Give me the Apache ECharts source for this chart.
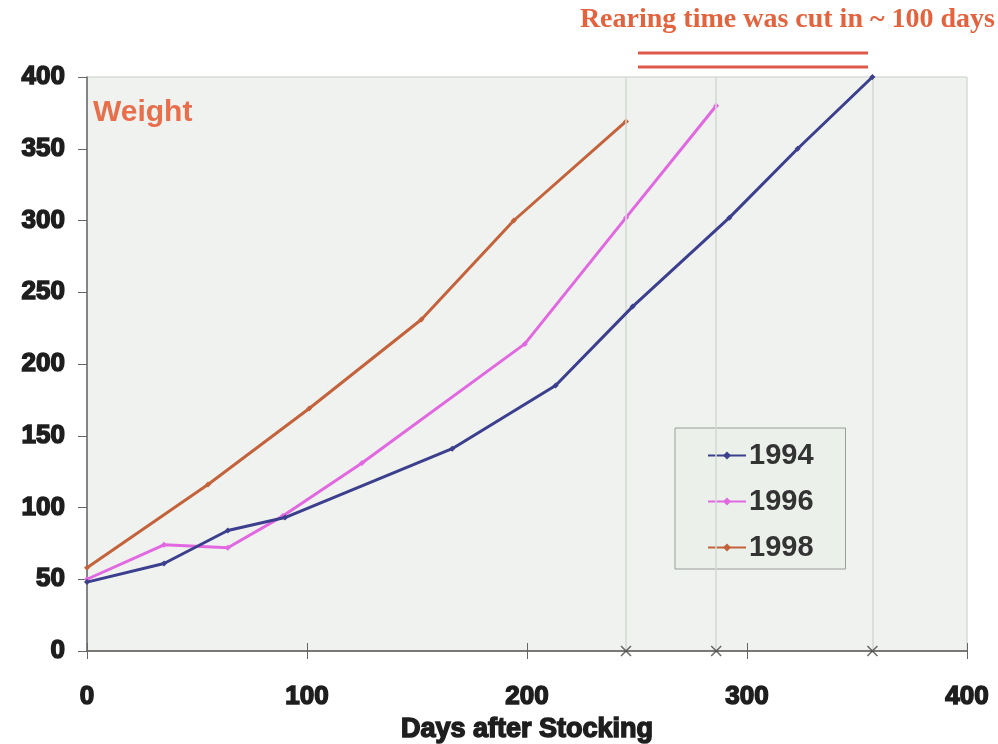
<!DOCTYPE html>
<html>
<head>
<meta charset="utf-8">
<script src="https://cdn.jsdelivr.net/npm/echarts@6/dist/echarts.min.js"></script>
<style>
  html, body { margin: 0; padding: 0; background: #ffffff; }
  #chart { width: 998px; height: 744px; }
</style>
</head>
<body>
<div id="chart"></div>
<script>
// Fish weight growth by stocking year: [days after stocking, weight]
const years = ['1994', '1996', '1998'];
const data1994 = [[0, 48], [35, 61], [64, 84], [90, 93], [166, 141], [213, 185], [248, 240], [292, 302], [323, 350], [357, 400]];
const data1996 = [[0, 50], [35, 74], [64, 72], [89, 94], [125, 131], [199, 214], [245, 302], [286, 380]];
const data1998 = [[0, 58], [55, 116], [101, 169], [152, 231], [194, 300], [245, 369]];
const xTicks = [0, 100, 200, 300, 400];
const yTicks = [0, 50, 100, 150, 200, 250, 300, 350, 400];

const seriesData = [data1994, data1996, data1998];
const colors = ['#3b3f8e', '#e268e2', '#c4633b'];

// harvest day of each year = last sample
const harvestDays = seriesData.map(d => d[d.length - 1][0]);

// heavy black tick labels (bold face thickened with a thin outline)
const labelFont = {
  fontFamily: 'Liberation Sans', fontWeight: 'bold', fontSize: 26, color: '#1e1e1e',
  textBorderColor: '#1e1e1e', textBorderWidth: 1.5
};

const lineSeries = years.map((y, i) => ({
  name: y,
  type: 'line',
  data: seriesData[i],
  symbol: 'diamond',
  symbolSize: 6,
  lineStyle: { width: 3, color: colors[i] },
  itemStyle: { color: colors[i] },
  z: 5 - i,
  markLine: {
    silent: true,
    symbol: 'none',
    label: { show: false },
    lineStyle: { color: '#d3d8d2', width: 1.5, type: 'solid' },
    data: [{ xAxis: harvestDays[i] }]
  }
}));

// small crosses on the x axis at each harvest day
const crossPath = 'path://M0,0 L10,10 M10,0 L0,10';
lineSeries.push({
  name: 'harvest',
  type: 'scatter',
  data: harvestDays.map(d => [d, 0]),
  symbol: crossPath,
  symbolSize: 10,
  itemStyle: { color: 'transparent', borderColor: '#444', borderWidth: 1.5 },
  clip: false,
  z: 10
});

const chart = echarts.init(document.getElementById('chart'));
chart.setOption({
  backgroundColor: '#ffffff',
  animation: false,
  grid: {
    left: 87, right: 31, top: 77, bottom: 93,
    outerBoundsMode: 'none',
    containLabel: false,
    show: true, backgroundColor: '#eff2ee', borderColor: '#c9ccc8', borderWidth: 1
  },
  xAxis: [{
    type: 'value', min: xTicks[0], max: xTicks[xTicks.length - 1], interval: 100,
    name: 'Days after Stocking', nameLocation: 'middle', nameGap: 57,
    nameTextStyle: {
      fontFamily: 'Liberation Sans', fontWeight: 'bold', fontSize: 27, color: '#1e1e1e',
      textBorderColor: '#1e1e1e', textBorderWidth: 1.5
    },
    axisLine: { show: true, onZero: false, lineStyle: { color: '#555', width: 1.5 } },
    axisTick: { show: true, length: 8, lineStyle: { color: '#666' } },
    axisLabel: Object.assign({ margin: 33 }, labelFont),
    splitLine: { show: false }
  }, {
    type: 'value', min: xTicks[0], max: xTicks[xTicks.length - 1], interval: 100,
    position: 'bottom',
    axisLine: { show: false },
    axisTick: { show: true, inside: true, length: 8, lineStyle: { color: '#666' } },
    axisLabel: { show: false },
    splitLine: { show: false }
  }],
  yAxis: {
    type: 'value', min: yTicks[0], max: yTicks[yTicks.length - 1], interval: 50,
    axisLine: { show: true, lineStyle: { color: '#666', width: 1.5 } },
    axisTick: { show: true, length: 9, lineStyle: { color: '#666' } },
    axisLabel: Object.assign({ margin: 22 }, labelFont),
    splitLine: { show: false }
  },
  legend: {
    data: years,
    orient: 'vertical',
    left: 675, top: 428,
    width: 170,
    padding: [13, 32, 7, 32],
    backgroundColor: '#ecf0eb',
    borderColor: '#9a9e99',
    borderWidth: 1,
    itemWidth: 38,
    itemHeight: 10,
    itemGap: 17,
    textStyle: {
      fontFamily: 'Liberation Sans', fontWeight: 'bold', fontSize: 29, color: '#333',
      padding: [0, 0, 0, -2]
    }
  },
  series: lineSeries,
  graphic: [
    {
      type: 'text', left: 93, top: 98,
      style: { text: 'Weight', fontFamily: 'Liberation Sans', fontWeight: 'bold', fontSize: 30, fill: '#e86e4c' }
    },
    {
      type: 'text', right: 3, top: 6,
      style: { text: 'Rearing time was cut in ~ 100 days', fontFamily: 'Liberation Serif', fontWeight: 'bold', fontSize: 28, fill: '#e4633f' }
    },
    { type: 'line', shape: { x1: 638, y1: 53, x2: 868, y2: 53 }, style: { stroke: '#df5a4a', lineWidth: 3 } },
    { type: 'line', shape: { x1: 638, y1: 67, x2: 868, y2: 67 }, style: { stroke: '#df5a4a', lineWidth: 3 } }
  ]
});
</script>
</body>
</html>
